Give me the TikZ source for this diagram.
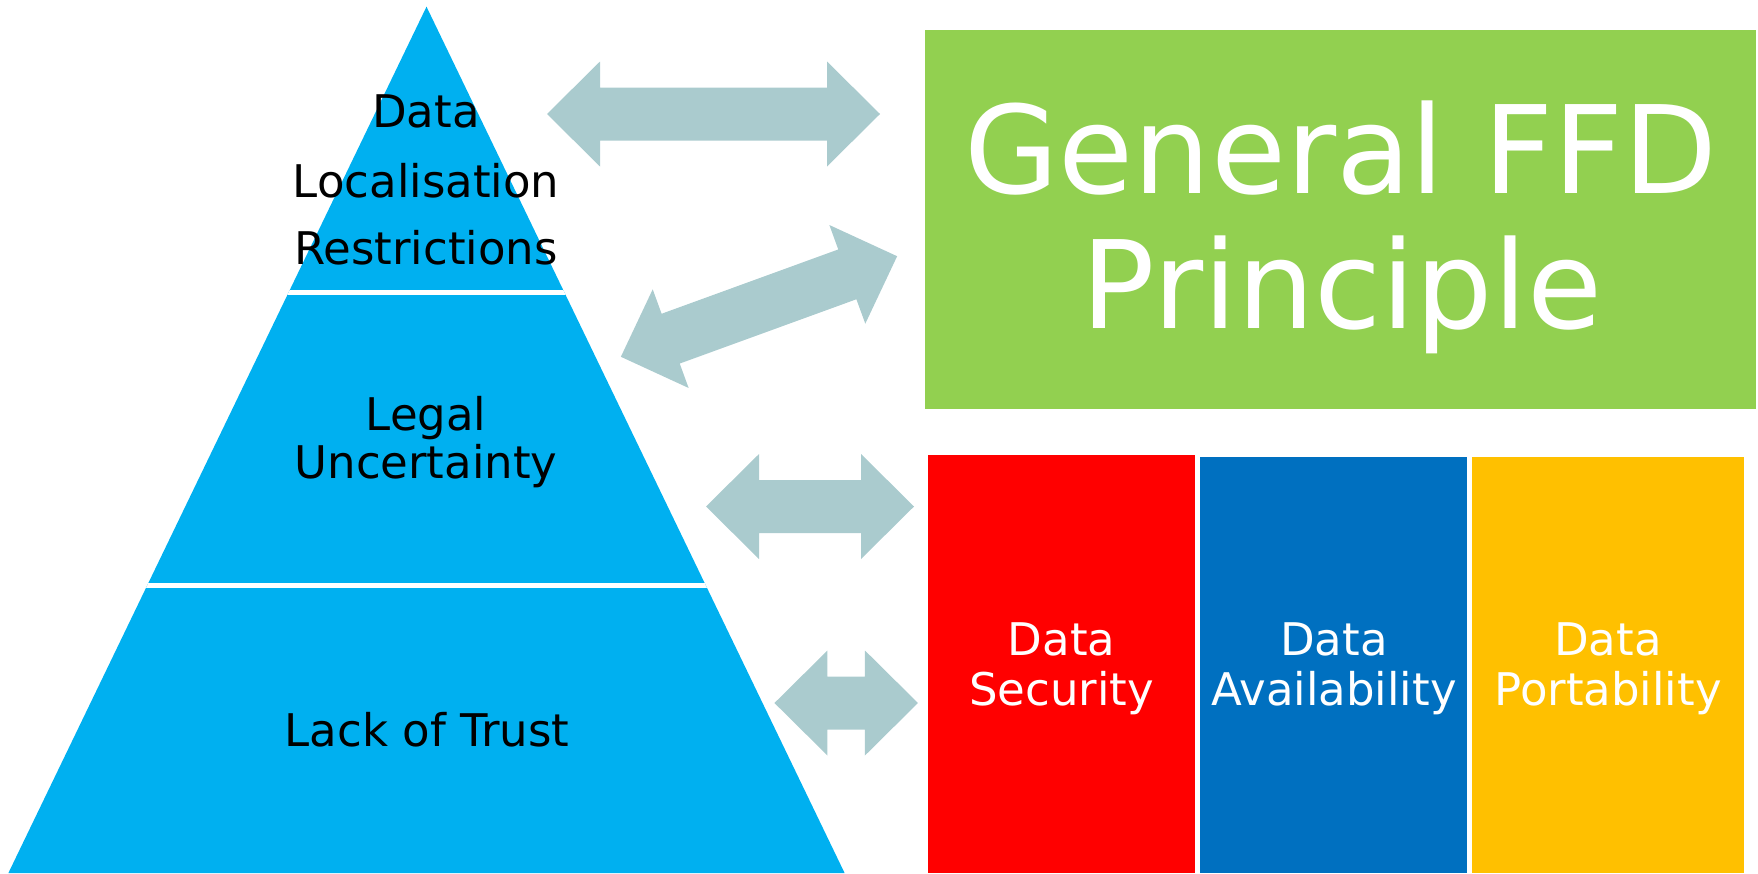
\documentclass[tikz,border=0pt]{standalone}
\usepackage{fontspec}
\setmainfont{DejaVu Sans}
\definecolor{pyrc}{HTML}{00B0F0}
\definecolor{grnc}{HTML}{92D050}
\definecolor{redc}{HTML}{FF0000}
\definecolor{bluc}{HTML}{0070C0}
\definecolor{yelc}{HTML}{FFC000}
\definecolor{arrc}{HTML}{AACBCE}
\tikzset{
  dblarr/.pic={
    \fill[arrc] ({-#1/2},0) -- ({-#1/2+53},-52.5) -- ({-#1/2+53},-26.5)
      -- ({#1/2-53},-26.5) -- ({#1/2-53},-52.5) -- ({#1/2},0)
      -- ({#1/2-53},52.5) -- ({#1/2-53},26.5) -- ({-#1/2+53},26.5)
      -- ({-#1/2+53},52.5) -- cycle;
  },
  pyrtext/.style={font=\fontsize{45}{48}\selectfont, text=black, anchor=base, inner sep=0pt},
  boxtext/.style={font=\fontsize{45}{50}\selectfont, text=white, anchor=base, inner sep=0pt},
  titletext/.style={font=\fontsize{122}{135}\selectfont, text=white, anchor=base, inner sep=0pt},
  colbox/.style={draw=none, inner sep=0pt, outer sep=0pt, anchor=north west}
}
\begin{document}
\begin{tikzpicture}[x=1pt,y=-1pt]
\useasboundingbox (0,0) rectangle (1758,873);
% pyramid
\fill[pyrc] (426.5,6.7) coordinate (apex) -- (8.4,873) coordinate (bl) -- (844.6,873) coordinate (br) -- cycle;
\begin{scope}
  \clip (apex) -- (bl) -- (br) -- cycle;
  \draw[white, line width=5pt] (0,292) coordinate (s1a) -- (900,292) coordinate (s1b);
  \draw[white, line width=5pt] (0,585) coordinate (s2a) -- (900,585) coordinate (s2b);
\end{scope}
\node[pyrtext] (t1a) at (426,127) {Data};
\node[pyrtext] (t1b) at (426,197.5) {Localisation};
\node[pyrtext] (t1c) at (426,264.5) {Restrictions};
\node[pyrtext] (t2a) at (426,430) {Legal};
\node[pyrtext] (t2b) at (426,478) {Uncertainty};
\node[pyrtext] (t3) at (427,746) {Lack of Trust};
% boxes
\node[colbox, fill=grnc, minimum width=831pt, minimum height=379pt] (ffd) at (925,30) {};
\node[titletext] (ffd1) at (1341,193) {General FFD};
\node[titletext] (ffd2) at (1342,328) {Principle};
\node[colbox, fill=redc, minimum width=267pt, minimum height=418pt] (sec) at (928,455) {};
\node[colbox, fill=bluc, minimum width=267pt, minimum height=416pt] (avl) at (1200,457) {};
\node[colbox, fill=yelc, minimum width=272pt, minimum height=416pt] (prt) at (1472,457) {};
\node[boxtext] (sec1) at (1061.5,655) {Data};
\node[boxtext] (sec2) at (1061.5,705) {Security};
\node[boxtext] (avl1) at (1334,655) {Data};
\node[boxtext] (avl2) at (1334,705) {Availability};
\node[boxtext] (prt1) at (1608,655) {Data};
\node[boxtext] (prt2) at (1608,705) {Portability};
% arrows
\pic (arrA) at (713.5,114) {dblarr=333};
\pic[rotate=20] (arrB) at (759,306.5) {dblarr=294};
\pic (arrC) at (810,506.5) {dblarr=208};
\pic (arrD) at (846.2,703) {dblarr=143.5};
\end{tikzpicture}
\end{document}
